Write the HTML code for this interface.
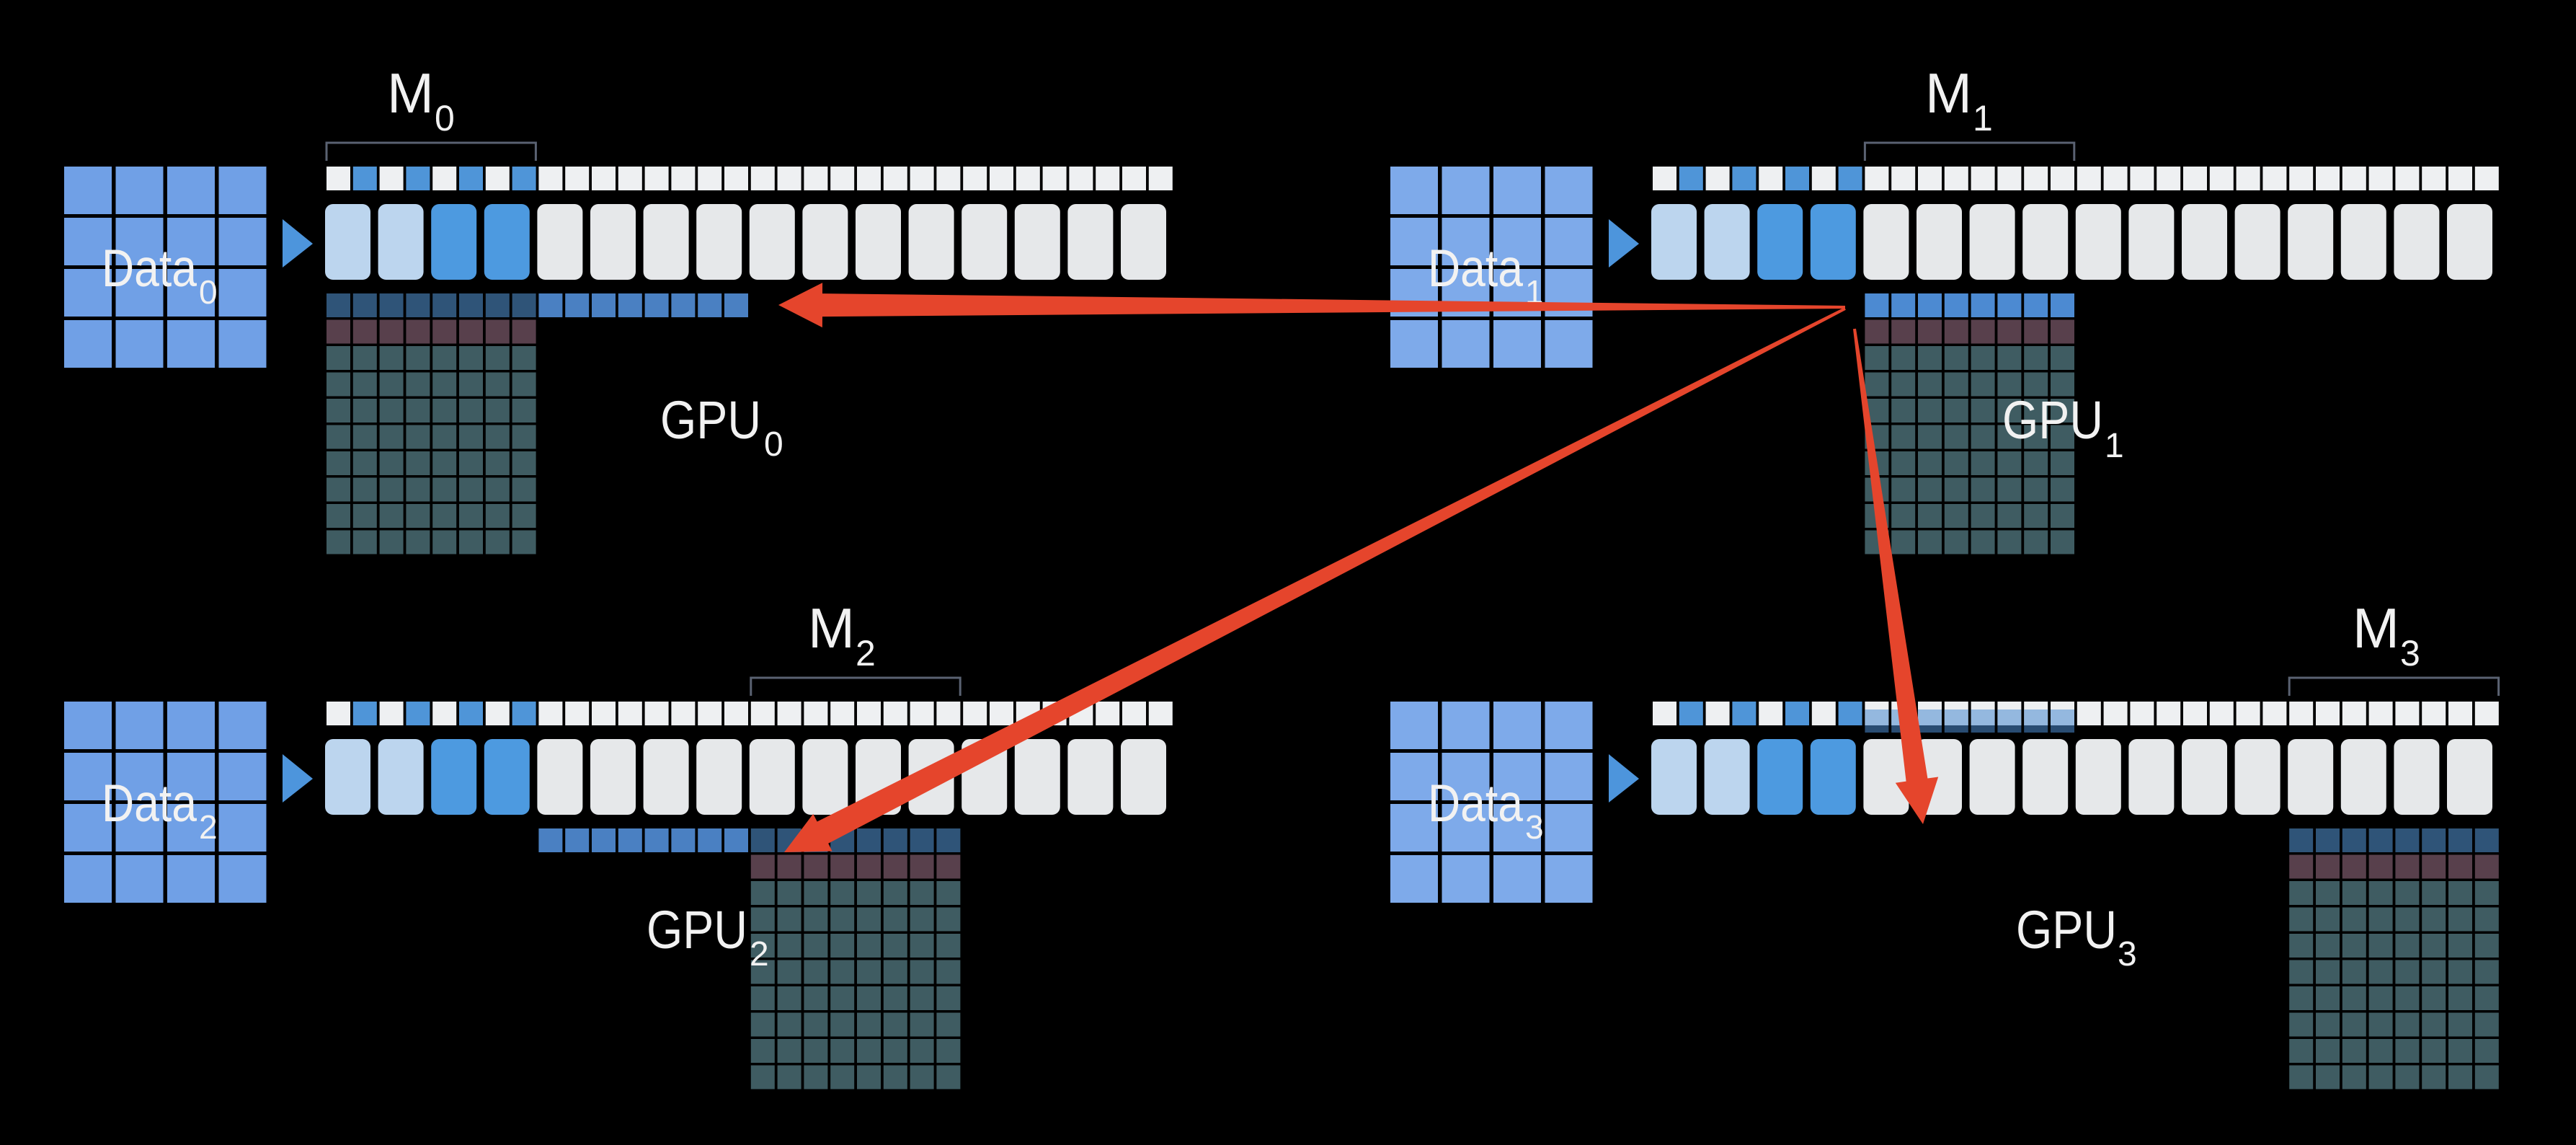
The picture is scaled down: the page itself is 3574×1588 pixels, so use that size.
<!DOCTYPE html>
<html><head><meta charset="utf-8">
<style>
html,body{margin:0;padding:0;background:#000;}
svg{display:block;}
text{font-family:"Liberation Sans",sans-serif;fill:#f2f2f2;}
</style></head>
<body>
<svg id="s" width="3574" height="1588" viewBox="0 0 3574 1588" xmlns="http://www.w3.org/2000/svg">
<rect width="3574" height="1588" fill="#000"/>
<g id="g"></g>
<text x="537" y="156" font-size="78">M</text><text x="603" y="181" font-size="50">0</text>
<text x="2671" y="156" font-size="78">M</text><text x="2737" y="181" font-size="50">1</text>
<text x="1121" y="898" font-size="78">M</text><text x="1187" y="923" font-size="50">2</text>
<text x="3264" y="898" font-size="78">M</text><text x="3330" y="923" font-size="50">3</text>

<text x="916" y="608" font-size="74" textLength="140" lengthAdjust="spacingAndGlyphs">GPU</text><text x="1060" y="632" font-size="48">0</text>
<text x="2778" y="608" font-size="74" textLength="140" lengthAdjust="spacingAndGlyphs">GPU</text><text x="2920" y="634" font-size="48">1</text>
<text x="897" y="1315" font-size="74" textLength="140" lengthAdjust="spacingAndGlyphs">GPU</text><text x="1040" y="1339" font-size="48">2</text>
<text x="2797" y="1315" font-size="74" textLength="140" lengthAdjust="spacingAndGlyphs">GPU</text><text x="2938" y="1339" font-size="48">3</text>

<text x="141" y="397" font-size="73" textLength="132" lengthAdjust="spacingAndGlyphs">Data</text><text x="276" y="421" font-size="46">0</text>
<text x="1981" y="397" font-size="73" textLength="132" lengthAdjust="spacingAndGlyphs">Data</text><text x="2116" y="421" font-size="46">1</text>
<text x="141" y="1139" font-size="73" textLength="132" lengthAdjust="spacingAndGlyphs">Data</text><text x="276" y="1163" font-size="46">2</text>
<text x="1981" y="1139" font-size="73" textLength="132" lengthAdjust="spacingAndGlyphs">Data</text><text x="2116" y="1163" font-size="46">3</text>
<g id="a"></g>
</svg>
<script>
(function(){
var NS="http://www.w3.org/2000/svg";
var g=document.getElementById("g"), ag=document.getElementById("a");
function el(p,tag,at){var e=document.createElementNS(NS,tag);for(var k in at)e.setAttribute(k,at[k]);p.appendChild(e);return e;}
function rect(x,y,w,h,f,rx,op){var a={x:x,y:y,width:w,height:h,fill:f};if(rx)a.rx=rx;if(op)a.opacity=op;return el(g,"rect",a);}
var P=36.8;
var panels=[{dx:0,dy:0,c:0},{dx:1840,dy:0,c:8},{dx:0,dy:742,c:16},{dx:1840,dy:742,c:24}];
panels.forEach(function(p,pi){
  var dx=p.dx,dy=p.dy;
  for(var r=0;r<4;r++)for(var c=0;c<4;c++)
    rect(89+dx+c*71.5,231+dy+r*71,66,66,pi%2?"#7eaaea":"#70a0e6");
  el(g,"polygon",{points:(392+dx)+","+(304+dy)+" "+(434+dx)+","+(338+dy)+" "+(392+dx)+","+(371+dy),fill:"#4d95dc"});
  for(var i=0;i<32;i++){
    var f=(i<8&&i%2==1)?"#4f95d8":"#eef0f2";
    rect(453+dx+i*P,231+dy,33,33,f);
  }
  for(var j=0;j<16;j++){
    var f=j<2?"#bcd5ee":(j<4?"#4d9ae0":"#e6e8ea");
    rect(451+dx+j*73.6,283+dy,63,105,f,11);
  }
  var x0=453+dx+p.c*P, x1=x0+8*P-4;
  el(g,"path",{d:"M"+x0+","+(223+dy)+" V"+(198+dy)+" H"+x1+" V"+(223+dy),fill:"none",stroke:"#5a6272","stroke-width":3});
  for(var r=0;r<10;r++)for(var c=0;c<8;c++){
    var f=r==0?(pi==1?"#4c8ad2":"#2f5478"):(r==1?"#58404c":"#3f5c62");
    rect(453+dx+(p.c+c)*P,407+dy+r*36.5,33,33,f);
  }
  if(pi==0||pi==2){
    for(var c=8;c<16;c++) rect(453+dx+c*P,407+dy,33,33,"#4a80c2");
  }
  if(pi==3){
    for(var c=8;c<16;c++) rect(453+dx+c*P,984,33,32,"#4a8ad0",0,0.55);
  }
});
function arrow(S,T,L,H,w1,w0){
  var vx=T[0]-S[0],vy=T[1]-S[1],d=Math.sqrt(vx*vx+vy*vy);
  var ux=vx/d,uy=vy/d,nx=-uy,ny=ux;
  var B=[T[0]-ux*L,T[1]-uy*L];
  var pts=[
    [S[0]+nx*w0,S[1]+ny*w0],
    [B[0]+nx*w1,B[1]+ny*w1],
    [B[0]+nx*H,B[1]+ny*H],
    T,
    [B[0]-nx*H,B[1]-ny*H],
    [B[0]-nx*w1,B[1]-ny*w1],
    [S[0]-nx*w0,S[1]-ny*w0]];
  el(ag,"polygon",{points:pts.map(function(q){return q[0].toFixed(1)+","+q[1].toFixed(1);}).join(" "),fill:"#e5452c"});
}
arrow([2560,426],[1080,423],61,31,16,2);
arrow([2560,428],[1088,1182],60,29,17,2);
arrow([2573,456],[2668,1143],62,30,15,2);
})();
</script>
</body></html>
